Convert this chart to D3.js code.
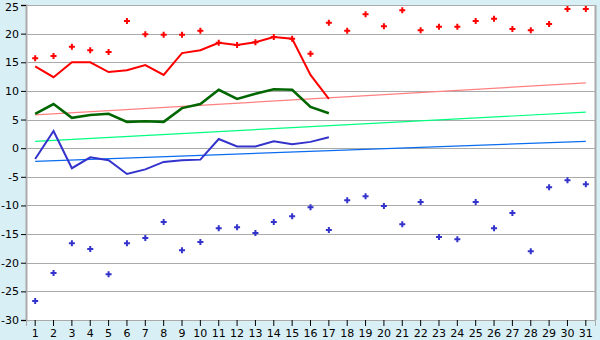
<!DOCTYPE html>
<html>
<head>
<meta charset="utf-8">
<script src="https://cdn.jsdelivr.net/npm/d3@7"></script>
<style>
  body { margin: 0; background: #d9eff6; }
  svg { display: block; }
  .axis text { font-family: "DejaVu Sans", sans-serif; font-size: 11px; fill: #000; }
</style>
</head>
<body>
<script>
/*
DATA
*/
const days = d3.range(1, 32)

// daily maximum markers
const maxMarks = [15.7, 16.1, 17.7, 17.1, 16.8, 22.2, 19.9, 19.8, 19.8, 20.5,
  18.4, 18.0, 18.5, 19.4, 19.1, 16.5, 21.9, 20.5, 23.4, 21.3,
  24.1, 20.6, 21.2, 21.2, 22.2, 22.6, 20.8, 20.6, 21.7, 24.3, 24.3]

// daily minimum markers
const minMarks = [-26.7, -21.8, -16.6, -17.6, -22.0, -16.6, -15.7, -12.9, -17.8, -16.4,
  -14.0, -13.8, -14.8, -12.9, -11.9, -10.3, -14.3, -9.1, -8.4, -10.1,
  -13.3, -9.4, -15.5, -15.9, -9.4, -14.0, -11.3, -18.0, -6.8, -5.6, -6.3]

// observed lines (days 1..17)
const maxLine = [14.3, 12.4, 15.0, 15.0, 13.3, 13.6, 14.5, 12.8, 16.6, 17.1,
  18.4, 18.0, 18.5, 19.4, 19.1, 12.8, 8.6]
const meanLine = [6.0, 7.7, 5.3, 5.8, 6.0, 4.6, 4.7, 4.6, 7.0, 7.7,
  10.2, 8.6, 9.5, 10.3, 10.2, 7.2, 6.1]
const minLine = [-1.9, 3.0, -3.5, -1.6, -2.1, -4.5, -3.7, -2.4, -2.1, -2.0,
  1.6, 0.3, 0.3, 1.2, 0.7, 1.1, 1.9]

// normal trend lines: [value on day 1, value on day 31]
const maxTrend = [5.8, 11.4]
const meanTrend = [1.2, 6.3]
const minTrend = [-2.3, 1.2]

const yTicks = d3.range(-30, 26, 5)

/*
SET UP
*/
const w = 600
const h = 340
const m = ({top: 5, right: 5, bottom: 20, left: 26})

const svg = d3.select("body")
  .append("svg")
  .attr("width", w)
  .attr("height", h)

const x = d3.scaleBand()
  .domain(days)
  .range([m.left, w - m.right])

const xc = (d) => x(d) + x.bandwidth() / 2

const y = d3.scaleLinear()
  .domain([-30, 25])
  .range([h - m.bottom, m.top])

// plot background
svg.append("rect")
  .attr("x", m.left)
  .attr("y", m.top)
  .attr("width", w - m.left - m.right)
  .attr("height", h - m.top - m.bottom)
  .attr("fill", "#fff")

// grid
svg.selectAll(".grid")
  .data(yTicks)
  .join("line")
  .attr("class", "grid")
  .attr("x1", m.left)
  .attr("x2", w - m.right)
  .attr("y1", (d) => Math.round(y(d)) + 0.5)
  .attr("y2", (d) => Math.round(y(d)) + 0.5)
  .attr("stroke", "#aaa")
  .attr("stroke-width", 1)

// right border
svg.append("line")
  .attr("x1", w - m.right + 0.5)
  .attr("x2", w - m.right + 0.5)
  .attr("y1", m.top)
  .attr("y2", h - m.bottom)
  .attr("stroke", "#aaa")
  .attr("stroke-width", 2)

/*
AXES
*/
const yAxis = svg.append("g")
  .attr("class", "axis")
  .attr("transform", `translate(${m.left},0)`)
  .call(d3.axisLeft(y).tickValues(yTicks).tickSize(5).tickPadding(2).tickFormat((d) => d))
yAxis.select(".domain").attr("stroke", "#aaa").attr("stroke-width", 2)
yAxis.selectAll(".tick line").attr("stroke", "#000")
yAxis.selectAll(".tick text")
  .text((d) => d < 0 ? "-" + Math.abs(d) : d)
  .attr("dy", (d) => d === 25 ? "0.5em" : "0.32em")

const xAxis = svg.append("g")
  .attr("class", "axis")
  .attr("transform", `translate(0,${h - m.bottom})`)
  .call(d3.axisBottom(x).tickSize(6).tickPadding(3))
xAxis.select(".domain").attr("stroke", "#aaa").attr("stroke-width", 1)
xAxis.selectAll(".tick line").attr("stroke", "#000")

/*
TREND LINES
*/
const trends = [
  {v: maxTrend, color: "#ff8080"},
  {v: meanTrend, color: "#00ff80"},
  {v: minTrend, color: "#0a6cf0"}
]
svg.selectAll(".trend")
  .data(trends)
  .join("line")
  .attr("class", "trend")
  .attr("x1", xc(days[0]))
  .attr("x2", xc(days[days.length - 1]))
  .attr("y1", (d) => y(d.v[0]))
  .attr("y2", (d) => y(d.v[1]))
  .attr("stroke", (d) => d.color)
  .attr("stroke-width", 1.2)

/*
OBSERVED LINES
*/
const line = d3.line()
  .x((d, i) => xc(days[i]))
  .y((d) => y(d))

const lines = [
  {v: meanLine, color: "#006600", width: 2.6},
  {v: minLine, color: "#3333cc", width: 2},
  {v: maxLine, color: "#ff0000", width: 2}
]
svg.selectAll(".obs")
  .data(lines)
  .join("path")
  .attr("class", "obs")
  .attr("d", (d) => line(d.v))
  .attr("fill", "none")
  .attr("stroke", (d) => d.color)
  .attr("stroke-width", (d) => d.width)

/*
MARKERS
*/
const cross = d3.symbol().type(d3.symbolCross).size(20)

function plotMarks(values, color, cls) {
  svg.selectAll("." + cls)
    .data(values)
    .join("path")
    .attr("class", cls)
    .attr("d", cross)
    .attr("transform", (d, i) => `translate(${xc(days[i])},${y(d)})`)
    .attr("fill", color)
}
plotMarks(maxMarks, "#ff0000", "maxmark")
plotMarks(minMarks, "#3333cc", "minmark")
</script>
</body>
</html>
